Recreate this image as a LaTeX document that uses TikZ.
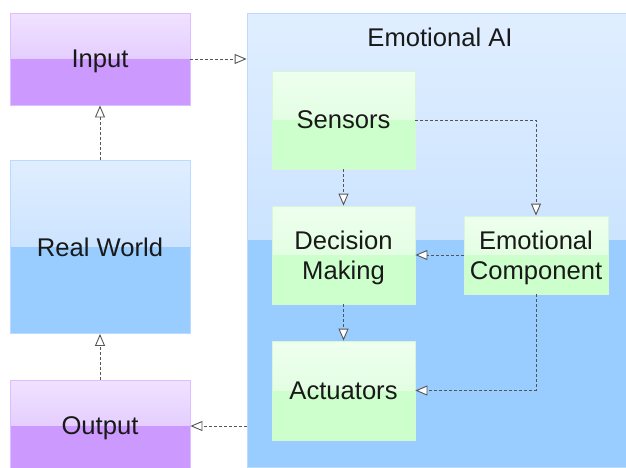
\documentclass[tikz,border=0pt]{standalone}
\usepackage{fontspec}
\setmainfont{Liberation Sans}
\usetikzlibrary{arrows.meta}

\definecolor{violetTop}{HTML}{F0E2FF}
\definecolor{violetMid}{HTML}{DABAFF}
\definecolor{violetBot}{HTML}{CC99FF}
\definecolor{violetEdge}{HTML}{DDBFFF}
\definecolor{blueTop}{HTML}{E0EEFF}
\definecolor{blueMid}{HTML}{B8D9FF}
\definecolor{blueBot}{HTML}{99CCFF}
\definecolor{blueEdge}{HTML}{BBDAFF}
\definecolor{greenTop}{HTML}{EEFFEE}
\definecolor{greenMid}{HTML}{D8FDD8}
\definecolor{greenBot}{HTML}{CCFFCC}
\definecolor{greenEdge}{HTML}{D6F6D6}
\definecolor{lineGray}{HTML}{555555}

\tikzset{
  labelfont/.style={text=black!90, font=\fontsize{25.6}{30}\selectfont},
  panel/.style n args={4}{
    rectangle, draw=#4, line width=0.8pt, inner sep=0pt, align=center,
    labelfont, text depth=0pt,
    path picture={
      \shade[top color=#1, bottom color=#2]
        (path picture bounding box.north west) rectangle (path picture bounding box.east);
      \fill[#3]
        (path picture bounding box.west) rectangle (path picture bounding box.south east);
    }},
  violetbox/.style={panel={violetTop}{violetMid}{violetBot}{violetEdge}, minimum width=180pt},
  bluebox/.style={panel={blueTop}{blueMid}{blueBot}{blueEdge}},
  greenbox/.style={panel={greenTop}{greenMid}{greenBot}{greenEdge}},
  conn/.style={draw=lineGray, line width=0.9pt, dash pattern=on 3pt off 2pt,
    -{Triangle[length=12pt, width=10pt, fill=white, line width=0.9pt]}},
}

\begin{document}
\begin{tikzpicture}[x=1pt, y=-1pt]
  \useasboundingbox (0,0) rectangle (626,467);
  \clip (0,0) rectangle (626,467);

  % container for the AI system
  \node[bluebox, minimum width=383pt, minimum height=454pt] (eai) at (438.5,240) {};
  \node[labelfont, text depth=0pt] (eaititle) at (440,37) {Emotional AI};

  % outer blocks
  \node[violetbox, minimum height=92pt] (in) at (100,59) {Input};
  \node[bluebox, minimum width=180pt, minimum height=173pt] (rw) at (100,247) {Real World};
  \node[violetbox, minimum height=92pt] (out) at (100,426) {Output};

  % inner blocks
  \node[greenbox, minimum width=143pt, minimum height=98pt] (sen) at (343.5,120) {Sensors};
  \node[greenbox, minimum width=143pt, minimum height=98pt] (dec) at (343.5,255) {Decision\\Making};
  \node[greenbox, minimum width=144pt, minimum height=78pt] (emo) at (536,255) {Emotional\\Component};
  \node[greenbox, minimum width=143pt, minimum height=99pt] (act) at (343.5,390.5) {Actuators};

  % connectors
  \draw[conn] (in.east) -- (in.east -| eai.west);
  \draw[conn] (rw.north) -- (in.south);
  \draw[conn] (out.north) -- (rw.south);
  \draw[conn] (out.east -| eai.west) -- (out.east);
  \draw[conn] (sen.east) -| (emo.north);
  \draw[conn] (sen.south) -- (dec.north);
  \draw[conn] (emo.west) -- (dec.east);
  \draw[conn] (dec.south) -- (act.north);
  \draw[conn] (emo.south) |- (act.east);
\end{tikzpicture}
\end{document}
